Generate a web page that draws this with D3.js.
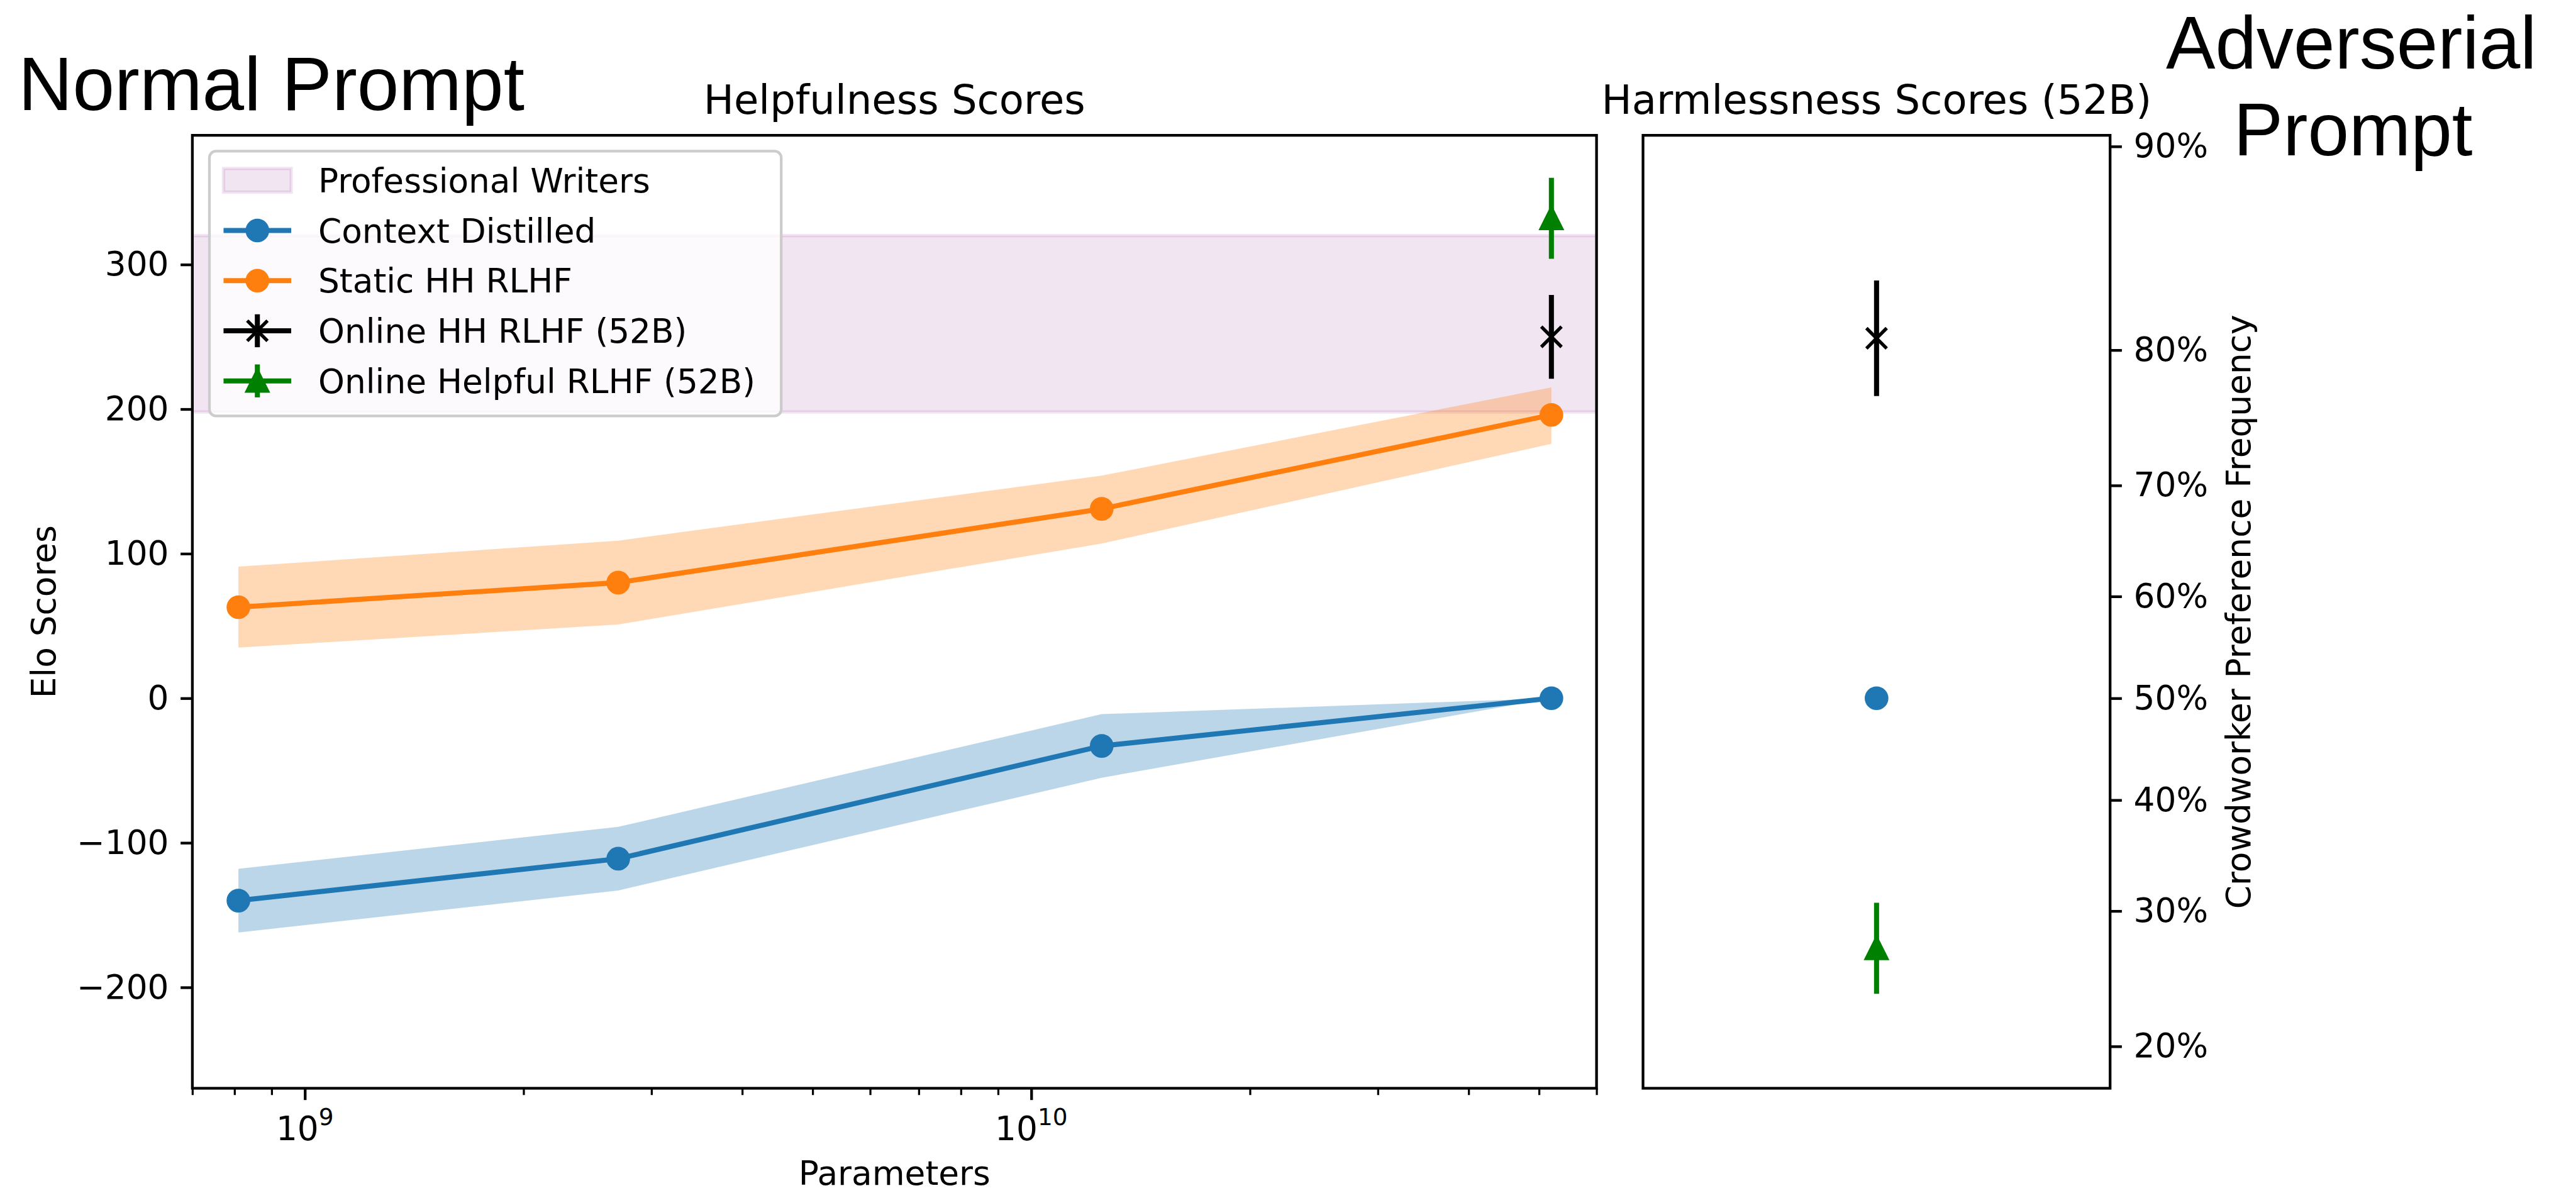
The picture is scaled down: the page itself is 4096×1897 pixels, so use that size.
<!DOCTYPE html>
<html>
<head>
<meta charset="utf-8">
<script src="https://cdn.jsdelivr.net/npm/d3@7"></script>
<style>
html, body { margin: 0; padding: 0; background: #fff; overflow: hidden; }
text { font-family: "DejaVu Sans", sans-serif; fill: #000; }
</style>
</head>
<body>
<svg id="fig"></svg>
<script>
// ---- data ----
const params = [8.1e8, 2.7e9, 1.25e10, 5.2e10];
const contextElo = [-140, -111, -33, 0];
const contextLo = [-162, -133, -55, 0];
const contextHi = [-118, -89, -11, 0];
const staticElo = [63, 80, 131, 196];
const staticLo = [35, 51, 107, 176];
const staticHi = [91, 109, 154, 215];
const onlineParam = 5.2e10;
const onlineHHElo = 250, onlineHHErr = 29;
const onlineHelpfulElo = 332, onlineHelpfulErr = 28;
const writersBand = [198, 320];

// harmlessness panel (52B only), in Elo
const harmNames = ["Context Distilled", "Online HH RLHF (52B)", "Online Helpful RLHF (52B)"];
const harmElo = [0, 249, -173];
const harmErr = [0, 40, 31.5];

// ticks
const eloTicks = [-200, -100, 0, 100, 200, 300];
const pctTicks = [20, 30, 40, 50, 60, 70, 80, 90];
const paramTicks = [1e9, 1e10];
const paramExp = [9, 10];
const minorTicks = [7e8, 8e8, 9e8, 2e9, 3e9, 4e9, 5e9, 6e9, 7e9, 8e9, 9e9, 2e10, 3e10, 4e10, 5e10, 6e10];

const legendLabels = ["Professional Writers", "Context Distilled", "Static HH RLHF", "Online HH RLHF (52B)", "Online Helpful RLHF (52B)"];

// ---- colours ----
const blue = "#1f77b4", orange = "#ff7f0e", green = "#008000", purple = "#800080";

// whole figure drawn in reference pixels, then scaled by the viewBox (0.935)
const W = 4379, H = 2028;
const svg = d3.select("#fig")
    .attr("width", 4096)
    .attr("height", 1897)
    .attr("viewBox", "0 0 " + W + " " + H);

const lw = 8.6, frameW = 4.6, ms = 17.25, mew = 5.75;
const fs = 57, titleFs = 68.5;

let left = {x0: 327, x1: 2714, y0: 230, y1: 1850};
let right = {x0: 2793, x1: 3587, y0: 230, y1: 1850};

let x = d3.scaleLog().domain([7e8, 6e10]).range([left.x0, left.x1]);
let y = d3.scaleLinear().domain([-269.8, 389.4]).range([left.y1, left.y0]);
let xr = d3.scalePoint().domain(["52B"]).range([right.x0, right.x1]).padding(0.5);

// elo <-> preference frequency
function pctToElo(p) { return 400 * Math.log10(p / (100 - p)); }

svg.append("defs").append("clipPath").attr("id", "clipL")
    .append("rect")
    .attr("x", left.x0).attr("y", left.y0)
    .attr("width", left.x1 - left.x0).attr("height", left.y1 - left.y0);

// ---------- left panel ----------
let gl = svg.append("g");
let plot = gl.append("g").attr("clip-path", "url(#clipL)");

plot.append("rect")
    .attr("x", left.x0 - 10)
    .attr("width", left.x1 - left.x0 + 20)
    .attr("y", y(writersBand[1]))
    .attr("height", y(writersBand[0]) - y(writersBand[1]))
    .attr("fill", purple).attr("fill-opacity", 0.1)
    .attr("stroke", purple).attr("stroke-opacity", 0.1).attr("stroke-width", 5.75);

function series(vals, lo, hi) {
    return params.map(function (p, i) { return {p: p, v: vals[i], lo: lo[i], hi: hi[i]}; });
}
let ctx = series(contextElo, contextLo, contextHi);
let sta = series(staticElo, staticLo, staticHi);

let area = d3.area()
    .x(function (d) { return x(d.p); })
    .y0(function (d) { return y(d.lo); })
    .y1(function (d) { return y(d.hi); });
let line = d3.line()
    .x(function (d) { return x(d.p); })
    .y(function (d) { return y(d.v); });

plot.append("path").datum(ctx).attr("d", area).attr("fill", blue).attr("fill-opacity", 0.3);
plot.append("path").datum(sta).attr("d", area).attr("fill", orange).attr("fill-opacity", 0.3);

[[ctx, blue], [sta, orange]].forEach(function (s) {
    plot.append("path").datum(s[0]).attr("d", line)
        .attr("fill", "none").attr("stroke", s[1]).attr("stroke-width", lw)
        .attr("stroke-linejoin", "round").attr("stroke-linecap", "square");
    plot.selectAll(null).data(s[0]).enter().append("circle")
        .attr("cx", function (d) { return x(d.p); })
        .attr("cy", function (d) { return y(d.v); })
        .attr("r", ms)
        .attr("fill", s[1]).attr("stroke", s[1]).attr("stroke-width", mew);
});

function errBar(g, cx, v, e, color) {
    g.append("line")
        .attr("x1", cx).attr("x2", cx)
        .attr("y1", y(v - e)).attr("y2", y(v + e))
        .attr("stroke", color).attr("stroke-width", lw);
}
function xMarker(g, cx, cy) {
    g.append("path")
        .attr("d", "M" + (cx - ms) + "," + (cy - ms) + "L" + (cx + ms) + "," + (cy + ms) +
            "M" + (cx - ms) + "," + (cy + ms) + "L" + (cx + ms) + "," + (cy - ms))
        .attr("stroke", "#000").attr("stroke-width", mew).attr("fill", "none");
}
function triMarker(g, cx, cy) {
    g.append("path")
        .attr("d", "M" + cx + "," + (cy - ms) + "L" + (cx - ms) + "," + (cy + ms) + "L" + (cx + ms) + "," + (cy + ms) + "Z")
        .attr("fill", green).attr("stroke", green).attr("stroke-width", mew);
}
function dotMarker(g, cx, cy) {
    g.append("circle").attr("cx", cx).attr("cy", cy).attr("r", ms)
        .attr("fill", blue).attr("stroke", blue).attr("stroke-width", mew);
}

errBar(plot, x(onlineParam), onlineHHElo, onlineHHErr, "#000");
xMarker(plot, x(onlineParam), y(onlineHHElo));
errBar(plot, x(onlineParam), onlineHelpfulElo, onlineHelpfulErr, green);
triMarker(plot, x(onlineParam), y(onlineHelpfulElo));

// axes
let yAxis = gl.append("g").attr("transform", "translate(" + left.x0 + ",0)")
    .call(d3.axisLeft(y).tickValues(eloTicks).tickSize(20).tickPadding(20));
let xMinor = gl.append("g").attr("transform", "translate(0," + left.y1 + ")")
    .call(d3.axisBottom(x).tickValues(minorTicks).tickSize(11.5).tickFormat(""));
let xAxis = gl.append("g").attr("transform", "translate(0," + left.y1 + ")")
    .call(d3.axisBottom(x).tickValues(paramTicks).tickSize(20).tickFormat(""));
xMinor.selectAll(".tick line").attr("stroke-width", 3.45);

[yAxis, xMinor, xAxis].forEach(function (a) {
    a.select(".domain").remove();
    a.attr("font-size", fs).attr("font-family", "DejaVu Sans");
    a.selectAll(".tick line").attr("stroke", "#000");
});
yAxis.selectAll(".tick line").attr("stroke-width", frameW);
xAxis.selectAll(".tick line").attr("stroke-width", frameW);

paramTicks.forEach(function (v, i) {
    let t = gl.append("text")
        .attr("x", x(v)).attr("y", 1938)
        .attr("text-anchor", "middle")
        .attr("font-size", fs);
    t.append("tspan").text("10");
    t.append("tspan").attr("font-size", 40).attr("dy", -25).text(paramExp[i]);
});

gl.append("rect")
    .attr("x", left.x0).attr("y", left.y0)
    .attr("width", left.x1 - left.x0).attr("height", left.y1 - left.y0)
    .attr("fill", "none").attr("stroke", "#000").attr("stroke-width", frameW);

gl.append("text").attr("x", (left.x0 + left.x1) / 2).attr("y", 194)
    .attr("text-anchor", "middle").attr("font-size", titleFs).text("Helpfulness Scores");
gl.append("text").attr("x", (left.x0 + left.x1) / 2).attr("y", 2014)
    .attr("text-anchor", "middle").attr("font-size", fs).text("Parameters");
gl.append("text").attr("transform", "translate(93.7," + (left.y0 + left.y1) / 2 + ") rotate(-90)")
    .attr("text-anchor", "middle").attr("font-size", fs).text("Elo Scores");

// legend
let lg = gl.append("g");
lg.append("rect")
    .attr("x", 356).attr("y", 257).attr("width", 972).attr("height", 450)
    .attr("rx", 11).attr("ry", 11)
    .attr("fill", "#fff").attr("fill-opacity", 0.8)
    .attr("stroke", "#cccccc").attr("stroke-width", 4.6);

let hx0 = 380, hx1 = 495, hxc = (hx0 + hx1) / 2;
let rowY = d3.scaleLinear().domain([0, 4]).range([306.5, 647.5]);

legendLabels.forEach(function (lab, i) {
    let cy = rowY(i);
    lg.append("text").attr("x", 541).attr("y", cy + 20.5).attr("font-size", fs).text(lab);
    if (i === 0) {
        lg.append("rect").attr("x", hx0).attr("y", cy - 20).attr("width", hx1 - hx0).attr("height", 40)
            .attr("fill", purple).attr("fill-opacity", 0.1)
            .attr("stroke", purple).attr("stroke-opacity", 0.1).attr("stroke-width", 5.75);
        return;
    }
    let col = [null, blue, orange, "#000", green][i];
    lg.append("line").attr("x1", hx0).attr("x2", hx1).attr("y1", cy).attr("y2", cy)
        .attr("stroke", col).attr("stroke-width", lw);
    if (i === 1 || i === 2) {
        lg.append("circle").attr("cx", hxc).attr("cy", cy).attr("r", ms)
            .attr("fill", col).attr("stroke", col).attr("stroke-width", mew);
    } else {
        lg.append("line").attr("x1", hxc).attr("x2", hxc).attr("y1", cy - 28).attr("y2", cy + 28)
            .attr("stroke", col).attr("stroke-width", lw);
        if (i === 3) xMarker(lg, hxc, cy); else triMarker(lg, hxc, cy);
    }
});

// ---------- right panel ----------
let gr = svg.append("g");
let cxr = xr("52B");
harmNames.forEach(function (n, i) {
    if (i === 0) {
        dotMarker(gr, cxr, y(harmElo[i]));
    } else if (i === 1) {
        errBar(gr, cxr, harmElo[i], harmErr[i], "#000");
        xMarker(gr, cxr, y(harmElo[i]));
    } else {
        errBar(gr, cxr, harmElo[i], harmErr[i], green);
        triMarker(gr, cxr, y(harmElo[i]));
    }
});

let pctElo = pctTicks.map(pctToElo);
let rAxis = gr.append("g").attr("transform", "translate(" + right.x1 + ",0)")
    .call(d3.axisRight(y).tickValues(pctElo).tickSize(20).tickPadding(20)
        .tickFormat(function (d) { return pctTicks[pctElo.indexOf(d)] + "%"; }));
rAxis.select(".domain").remove();
rAxis.attr("font-size", fs).attr("font-family", "DejaVu Sans");
rAxis.selectAll(".tick line").attr("stroke", "#000").attr("stroke-width", frameW);

gr.append("rect")
    .attr("x", right.x0).attr("y", right.y0)
    .attr("width", right.x1 - right.x0).attr("height", right.y1 - right.y0)
    .attr("fill", "none").attr("stroke", "#000").attr("stroke-width", frameW);

gr.append("text").attr("x", (right.x0 + right.x1) / 2).attr("y", 194)
    .attr("text-anchor", "middle").attr("font-size", titleFs).text("Harmlessness Scores (52B)");
gr.append("text").attr("transform", "translate(3825," + (right.y0 + right.y1) / 2 + ") rotate(-90)")
    .attr("text-anchor", "middle").attr("font-size", fs).text("Crowdworker Preference Frequency");

// ---------- big annotations ----------
svg.append("text").attr("x", 31).attr("y", 186.7)
    .style("font-family", "'Liberation Sans', Arial, sans-serif")
    .attr("font-size", 128).text("Normal Prompt");
svg.append("text").attr("x", 3997).attr("y", 117).attr("text-anchor", "middle")
    .style("font-family", "'Liberation Sans', Arial, sans-serif")
    .attr("font-size", 126).text("Adverserial");
svg.append("text").attr("x", 4000).attr("y", 264).attr("text-anchor", "middle")
    .style("font-family", "'Liberation Sans', Arial, sans-serif")
    .attr("font-size", 126).text("Prompt");
</script>
</body>
</html>
